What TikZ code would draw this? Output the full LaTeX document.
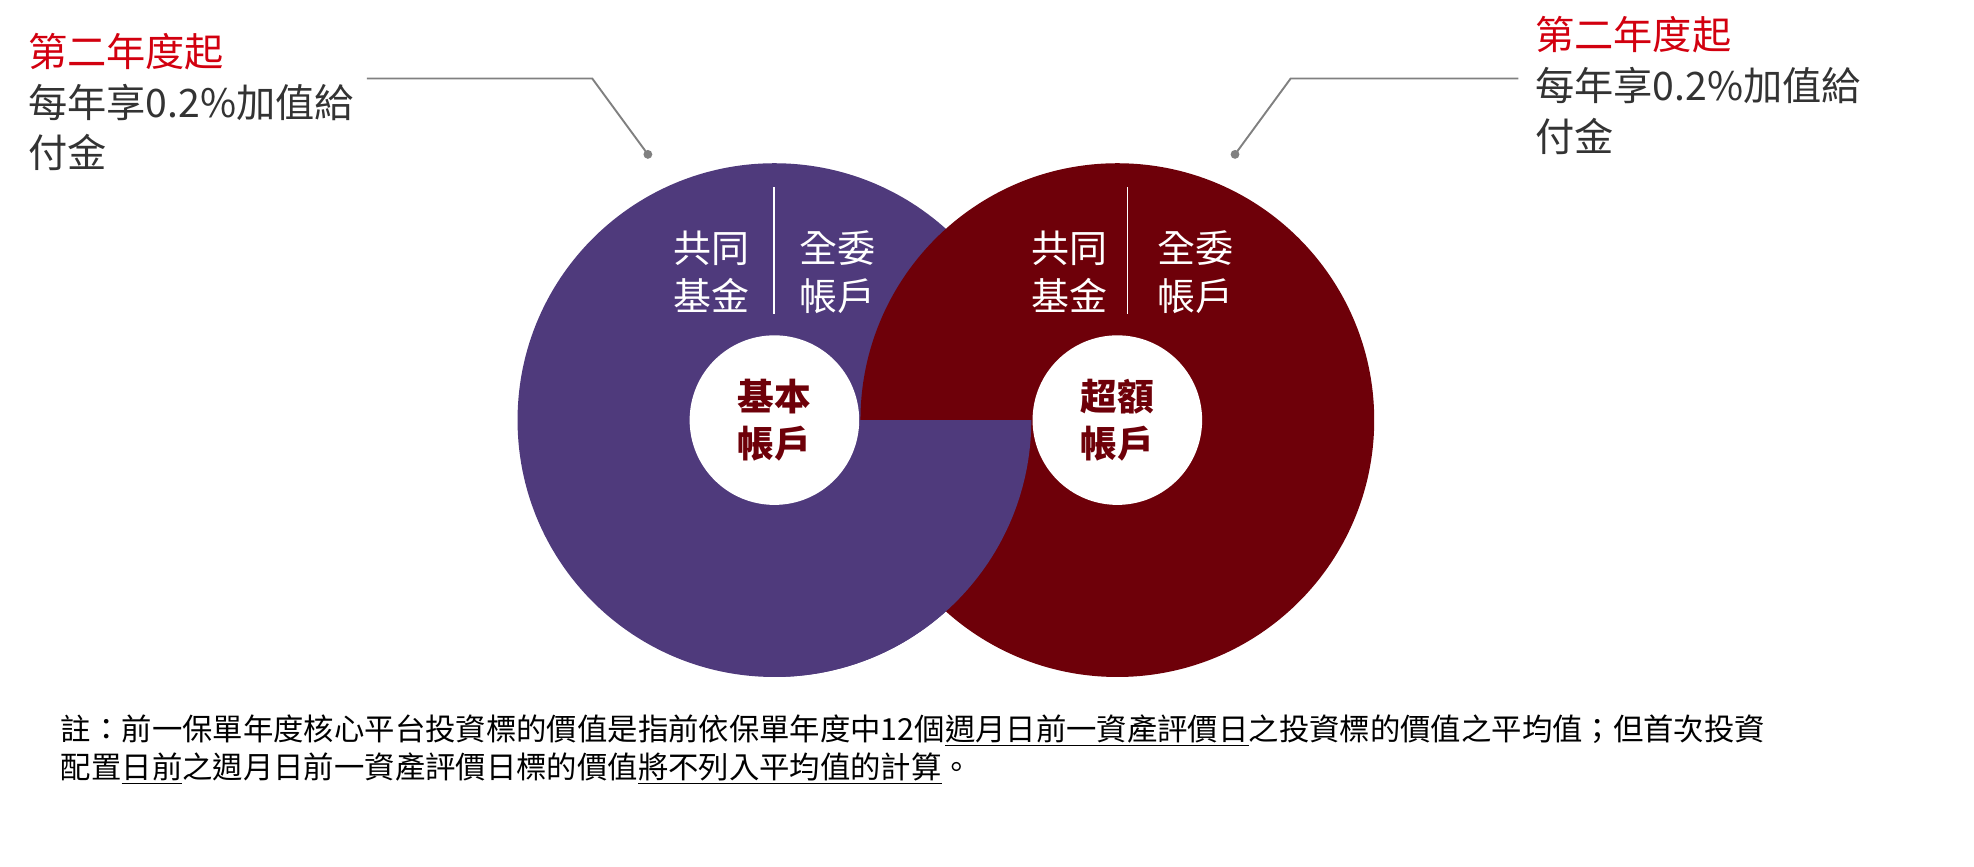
\documentclass[tikz,border=0pt]{standalone}
\usepackage{fontspec}
\setmainfont{Noto Sans CJK TC}
\definecolor{acctpurple}{HTML}{4F3A7C}
\definecolor{acctred}{HTML}{6E0009}
\definecolor{titlered}{HTML}{D2000F}
\definecolor{bodygray}{HTML}{333333}
\tikzset{
  innerlbl/.style={text=white,font=\fontsize{30}{38}\selectfont,align=center},
  centerlbl/.style={text=acctred,font=\fontsize{29}{37}\selectfont\bfseries,align=center},
  calltext/.style={anchor=north west,align=left,font=\fontsize{31}{40}\selectfont,text=bodygray,inner sep=0pt},
  callline/.style={draw=gray,line width=1.5pt}
}
\begin{document}
\begin{tikzpicture}[x=1pt,y=-1pt]
\useasboundingbox (0,0) rectangle (1560,685);

% rings
\fill [acctpurple] (612,332) circle (203);
\fill [acctred] (883,332) circle (203);
\fill [acctpurple] (612,332) -- (815,332) arc[start angle=0,end angle=90,radius=203] -- cycle;
\node [circle,fill=white,minimum size=134pt,inner sep=0pt] (basic) at (612,332) {};
\node [circle,fill=white,minimum size=134pt,inner sep=0pt] (extra) at (883,332) {};
\node [centerlbl] at (basic) {基本\\帳戶};
\node [centerlbl] at (extra) {超額\\帳戶};

% inner labels
\draw [white,line width=1.5pt] (612,148) -- (612,248);
\draw [white,line width=1.5pt] (891,148) -- (891,248);
\node [innerlbl] (fundL) at (562,215) {共同\\基金};
\node [innerlbl] (mandL) at (662,215) {全委\\帳戶};
\node [innerlbl] (fundR) at (845,215) {共同\\基金};
\node [innerlbl] (mandR) at (945,215) {全委\\帳戶};

% callouts
\node [calltext] (noteL) at (22,26) {\textcolor{titlered}{第二年度起}\\每年享0.2\%加值給\\付金};
\node [calltext] (noteR) at (1213,13) {\textcolor{titlered}{第二年度起}\\每年享0.2\%加值給\\付金};
\coordinate (dotL) at (512,122);
\coordinate (dotR) at (976,122);
\draw [callline] (290,62) -- (468,62) -- (dotL);
\draw [callline] (1200,62) -- (1020,62) -- (dotR);
\fill [gray] (dotL) circle (3.5);
\fill [gray] (dotR) circle (3.5);

% footnote
\node [anchor=north west,align=left,inner sep=0pt,text=black,
  font=\fontsize{24}{30}\selectfont] (foot) at (48,565)
  {註：前一保單年度核心平台投資標的價值是指前依保單年度中12個\underline{週月日前一資產評價日}之投資標的價值之平均值；但首次投資\\
   配置\underline{日前}之週月日前一資產評價日標的價值\underline{將不列入平均值的計算}。};
\end{tikzpicture}
\end{document}
